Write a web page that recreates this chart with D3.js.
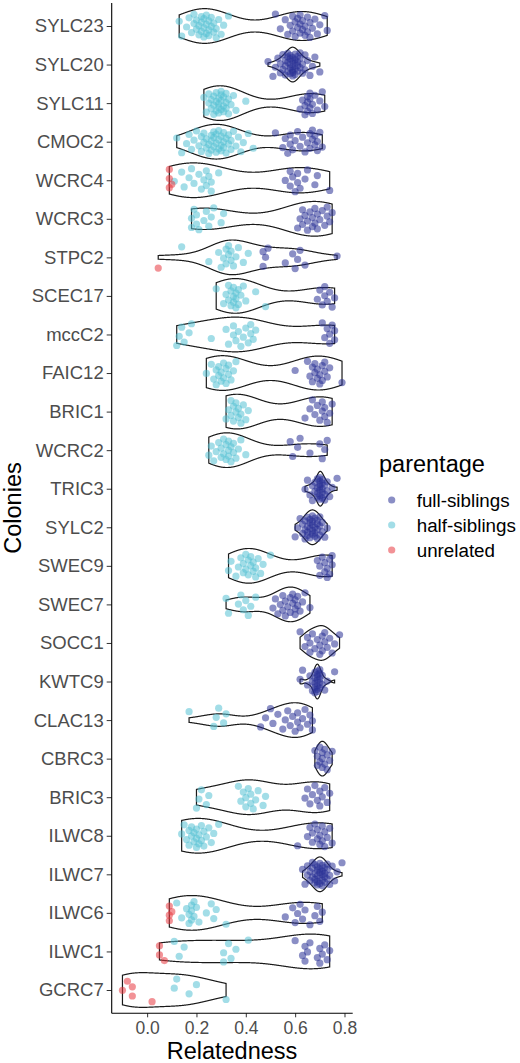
<!DOCTYPE html>
<html>
<head>
<meta charset="utf-8">
<script src="https://cdn.jsdelivr.net/npm/d3@7"></script>
<style>
  body { margin: 0; background: #fff; }
  svg { font-family: "Liberation Sans", Arial, sans-serif; }
</style>
</head>
<body>
<svg id="chart" width="520" height="1063"></svg>
<script>
// colonies, top to bottom
var colonies = ['SYLC23','SYLC20','SYLC11','CMOC2','WCRC4','WCRC3','STPC2','SCEC17','mccC2','FAIC12',
  'BRIC1','WCRC2','TRIC3','SYLC2','SWEC9','SWEC7','SOCC1','KWTC9','CLAC13','CBRC3','BRIC3','ILWC8',
  'ILWC7','ILWC6','ILWC1','GCRC7'];

var parentage = ['full-siblings', 'half-siblings', 'unrelated'];
var xTicks = [0, 0.2, 0.4, 0.6, 0.8];

// relatedness values, one row per colony (same order)
var fullSib = [
  [0.52,0.54,0.56,0.57,0.58,0.59,0.59,0.60,0.60,0.61,0.61,0.62,0.62,0.62,0.63,0.63,0.64,0.64,0.65,0.65,0.66,0.66,0.67,0.68,0.69,0.70,0.72,0.73],
  [0.49,0.51,0.52,0.53,0.54,0.54,0.55,0.55,0.56,0.56,0.56,0.57,0.57,0.57,0.57,0.58,0.58,0.58,0.58,0.58,0.59,0.59,0.59,0.59,0.59,0.59,0.60,0.60,0.60,0.60,0.60,0.61,0.61,0.61,0.61,0.62,0.62,0.62,0.63,0.63,0.64,0.64,0.65,0.66,0.67,0.68,0.70],
  [0.62,0.63,0.64,0.64,0.65,0.65,0.65,0.66,0.66,0.66,0.67,0.67,0.68,0.69,0.70,0.71,0.72],
  [0.52,0.55,0.56,0.57,0.58,0.58,0.59,0.60,0.61,0.62,0.63,0.64,0.65,0.66,0.66,0.67,0.67,0.68,0.68,0.69,0.69,0.70,0.71],
  [0.56,0.58,0.58,0.59,0.60,0.61,0.61,0.62,0.64,0.65,0.68,0.69,0.74],
  [0.61,0.62,0.63,0.63,0.64,0.65,0.65,0.66,0.67,0.67,0.68,0.68,0.69,0.69,0.70,0.71,0.72,0.73,0.73,0.74,0.75],
  [0.47,0.47,0.48,0.49,0.56,0.59,0.60,0.61,0.62,0.64,0.77],
  [0.69,0.70,0.71,0.72,0.72,0.73,0.74,0.75,0.76],
  [0.71,0.72,0.73,0.74,0.74,0.75,0.76,0.76],
  [0.60,0.65,0.66,0.67,0.67,0.68,0.68,0.69,0.69,0.70,0.70,0.71,0.71,0.72,0.72,0.73,0.74,0.79],
  [0.64,0.66,0.67,0.68,0.69,0.70,0.71,0.71,0.72,0.72,0.73,0.74,0.75],
  [0.58,0.59,0.61,0.62,0.66,0.70,0.71,0.72,0.73],
  [0.64,0.65,0.66,0.67,0.67,0.68,0.68,0.69,0.69,0.69,0.69,0.70,0.70,0.70,0.70,0.70,0.70,0.70,0.71,0.71,0.71,0.71,0.71,0.72,0.72,0.72,0.73,0.73,0.74,0.75,0.77],
  [0.60,0.61,0.62,0.63,0.63,0.64,0.64,0.64,0.65,0.65,0.65,0.65,0.66,0.66,0.66,0.66,0.67,0.67,0.67,0.67,0.67,0.68,0.68,0.68,0.68,0.69,0.69,0.69,0.69,0.70,0.70,0.70,0.71,0.71,0.72,0.73],
  [0.69,0.70,0.70,0.71,0.72,0.72,0.73,0.73,0.74,0.74,0.75,0.75],
  [0.51,0.52,0.53,0.54,0.55,0.55,0.56,0.56,0.57,0.58,0.58,0.59,0.59,0.60,0.60,0.60,0.61,0.61,0.62,0.63,0.64,0.66],
  [0.62,0.64,0.65,0.66,0.66,0.67,0.68,0.69,0.70,0.70,0.71,0.71,0.72,0.72,0.73,0.74,0.75,0.76,0.78],
  [0.62,0.63,0.65,0.66,0.67,0.67,0.68,0.68,0.68,0.68,0.68,0.69,0.69,0.69,0.69,0.69,0.69,0.69,0.70,0.70,0.70,0.70,0.70,0.71,0.71,0.72,0.73,0.76],
  [0.46,0.48,0.50,0.51,0.53,0.55,0.56,0.57,0.58,0.59,0.60,0.61,0.61,0.62,0.63,0.64,0.65,0.66,0.67,0.67],
  [0.68,0.69,0.69,0.70,0.70,0.71,0.71,0.71,0.72,0.72,0.73,0.73,0.74,0.75],
  [0.64,0.65,0.66,0.67,0.68,0.69,0.70,0.70,0.71,0.72,0.73,0.74],
  [0.61,0.65,0.66,0.67,0.67,0.68,0.69,0.69,0.70,0.70,0.71,0.71,0.72,0.72,0.73,0.74,0.75],
  [0.63,0.64,0.65,0.65,0.66,0.66,0.67,0.67,0.67,0.68,0.68,0.68,0.68,0.69,0.69,0.69,0.69,0.69,0.70,0.70,0.70,0.70,0.70,0.71,0.71,0.71,0.71,0.71,0.72,0.72,0.72,0.72,0.73,0.73,0.73,0.74,0.74,0.75,0.76,0.77,0.79],
  [0.56,0.59,0.60,0.61,0.62,0.63,0.64,0.66,0.68,0.69,0.70,0.71],
  [0.60,0.63,0.64,0.64,0.65,0.66,0.69,0.70,0.70,0.71,0.72,0.73,0.74],
  []
];

var halfSib = [
  [0.13,0.14,0.16,0.17,0.18,0.19,0.19,0.20,0.20,0.21,0.21,0.22,0.22,0.22,0.23,0.23,0.23,0.24,0.24,0.24,0.25,0.25,0.25,0.26,0.26,0.27,0.27,0.28,0.28,0.29,0.30,0.31,0.33],
  [],
  [0.23,0.24,0.25,0.25,0.26,0.26,0.27,0.27,0.27,0.28,0.28,0.28,0.29,0.29,0.29,0.29,0.30,0.30,0.30,0.30,0.31,0.31,0.31,0.32,0.32,0.32,0.33,0.33,0.34,0.35,0.36,0.40],
  [0.12,0.14,0.16,0.17,0.18,0.19,0.20,0.21,0.22,0.22,0.23,0.23,0.24,0.24,0.25,0.25,0.26,0.26,0.26,0.27,0.27,0.27,0.28,0.28,0.28,0.29,0.29,0.29,0.30,0.30,0.30,0.31,0.31,0.31,0.32,0.32,0.33,0.33,0.34,0.34,0.35,0.36,0.37,0.38,0.39,0.41,0.43],
  [0.11,0.14,0.15,0.17,0.18,0.19,0.21,0.22,0.23,0.24,0.24,0.25,0.26,0.26,0.29],
  [0.18,0.18,0.19,0.20,0.20,0.21,0.23,0.24,0.25,0.26,0.27,0.30,0.31],
  [0.14,0.25,0.29,0.30,0.31,0.32,0.32,0.33,0.33,0.34,0.34,0.35,0.36,0.37,0.39,0.41],
  [0.28,0.31,0.32,0.33,0.33,0.34,0.34,0.35,0.35,0.35,0.36,0.36,0.36,0.37,0.37,0.38,0.39,0.40,0.44,0.48],
  [0.12,0.13,0.14,0.15,0.17,0.18,0.26,0.32,0.33,0.35,0.35,0.36,0.37,0.38,0.39,0.40,0.41,0.42,0.42,0.43,0.44],
  [0.24,0.26,0.27,0.28,0.28,0.29,0.29,0.30,0.30,0.31,0.31,0.32,0.32,0.33,0.33,0.34,0.35,0.36],
  [0.32,0.33,0.34,0.34,0.35,0.35,0.36,0.36,0.37,0.37,0.38,0.38,0.39,0.40,0.41],
  [0.25,0.26,0.27,0.28,0.29,0.30,0.30,0.31,0.31,0.32,0.32,0.33,0.33,0.33,0.34,0.34,0.35,0.35,0.36,0.37,0.38,0.40],
  [],
  [],
  [0.33,0.34,0.36,0.37,0.38,0.39,0.39,0.40,0.40,0.41,0.41,0.42,0.42,0.43,0.43,0.44,0.44,0.45,0.46,0.47,0.50],
  [0.32,0.33,0.37,0.38,0.39,0.40,0.41,0.42,0.44],
  [],
  [],
  [0.17,0.27,0.28,0.29,0.31,0.32],
  [],
  [0.20,0.21,0.22,0.24,0.25,0.37,0.38,0.39,0.40,0.40,0.41,0.42,0.42,0.43,0.44,0.45,0.47,0.48],
  [0.14,0.15,0.16,0.17,0.17,0.18,0.18,0.19,0.19,0.20,0.20,0.20,0.21,0.21,0.22,0.22,0.23,0.23,0.24,0.25,0.26,0.27,0.29],
  [],
  [0.12,0.14,0.16,0.17,0.17,0.18,0.18,0.18,0.19,0.19,0.20,0.21,0.24,0.26,0.27,0.28,0.32],
  [0.11,0.13,0.15,0.31,0.31,0.33,0.34,0.36,0.41],
  [0.11,0.12,0.17,0.20,0.32]
];

var unrelated = [
  [],[],[],[],
  [0.09,0.09,0.09,0.10],
  [],
  [0.045],
  [],[],[],[],[],[],[],[],[],[],[],[],[],[],[],[],
  [0.09,0.09,0.09,0.10],
  [0.05,0.05,0.07],
  [-0.10,-0.08,-0.06,-0.06,0.02]
];

var colors = ['#2a3196', '#56c1d3', '#e8383f'];

var svg = d3.select('#chart');

var x = d3.scaleLinear().domain([-0.1436, 0.8333]).range([111.7, 352.7]);
var y = d3.scalePoint().domain(colonies).range([26, 990]);
var step = y.step();
var color = d3.scaleOrdinal().domain(parentage).range(colors);

// kernel density like R's density(bw = "nrd0"), trimmed to the data range
function violin(vals) {
  var s = vals.slice().sort(d3.ascending);
  var n = s.length;
  var sd = d3.deviation(s);
  var iqr = (d3.quantile(s, 0.75) - d3.quantile(s, 0.25)) / 1.34;
  var lo = Math.min(sd, iqr);
  if (!(lo > 0)) lo = sd || Math.abs(s[0]) || 1;
  var bw = 1.2 * 0.9 * lo * Math.pow(n, -0.2);
  var a = s[0], b = s[n - 1];
  var pts = [];
  for (var i = 0; i < 512; i++) {
    var t = a + (b - a) * i / 511;
    var dens = d3.sum(s, function(v) {
      var z = (t - v) / bw;
      return Math.exp(-0.5 * z * z);
    });
    pts.push([t, dens]);
  }
  var mx = d3.max(pts, function(p) { return p[1]; });
  return pts.map(function(p) { return [p[0], p[1] / mx]; });
}

var line = d3.line();
var gViolins = svg.append('g');
colonies.forEach(function(c, ci) {
  var vals = fullSib[ci].concat(halfSib[ci], unrelated[ci]);
  var dens = violin(vals);
  var cy = y(c);
  var half = 0.45 * step;
  var upper = dens.map(function(p) { return [x(p[0]), cy - p[1] * half]; });
  var lower = dens.slice().reverse().map(function(p) { return [x(p[0]), cy + p[1] * half]; });
  gViolins.append('path')
    .attr('d', line(upper.concat(lower)) + 'Z')
    .attr('fill', 'none')
    .attr('stroke', '#1a1a1a')
    .attr('stroke-width', 1.2);
});

// points with a fixed vertical jitter
var pointData = [];
colonies.forEach(function(c, ci) {
  var k = 0;
  [fullSib, halfSib, unrelated].forEach(function(arr, pi) {
    arr[ci].forEach(function(v) {
      var j = ((k * 0.6180339887 + ci * 0.377) % 1) - 0.5;
      pointData.push({colony: c, value: v, group: parentage[pi], jit: j});
      k++;
    });
  });
});

svg.append('g').selectAll('circle')
  .data(pointData)
  .enter().append('circle')
    .attr('cx', function(d) { return x(d.value); })
    .attr('cy', function(d) { return y(d.colony) + d.jit * 0.62 * step; })
    .attr('r', 3.6)
    .attr('fill', function(d) { return color(d.group); })
    .attr('fill-opacity', 0.55);

// axes
var yAxis = svg.append('g')
  .attr('transform', 'translate(111.7,0)')
  .call(d3.axisLeft(y).tickSize(5).tickPadding(3).tickSizeOuter(0));
yAxis.select('.domain').remove();
yAxis.selectAll('.tick line').attr('stroke', '#333');
yAxis.selectAll('.tick text')
  .attr('fill', '#4d4d4d')
  .style('font-size', '18.5px')
  .style('font-family', '"Liberation Sans", Arial, sans-serif');

var xAxis = svg.append('g')
  .attr('transform', 'translate(0,1013.3)')
  .call(d3.axisBottom(x).tickValues(xTicks).tickFormat(d3.format('.1f')).tickSize(4).tickPadding(4).tickSizeOuter(0));
xAxis.select('.domain').remove();
xAxis.selectAll('.tick line').attr('stroke', '#333');
xAxis.selectAll('.tick text')
  .attr('fill', '#4d4d4d')
  .style('font-size', '17.5px')
  .style('font-family', '"Liberation Sans", Arial, sans-serif');

svg.append('line')
  .attr('x1', 111.7).attr('x2', 111.7).attr('y1', 3).attr('y2', 1013.3)
  .attr('stroke', '#000').attr('stroke-width', 1.1);
svg.append('line')
  .attr('x1', 111.7).attr('x2', 352.7).attr('y1', 1013.3).attr('y2', 1013.3)
  .attr('stroke', '#000').attr('stroke-width', 1.1);

svg.append('text')
  .attr('x', 232).attr('y', 1059)
  .attr('text-anchor', 'middle')
  .style('font-size', '23.5px')
  .text('Relatedness');

svg.append('text')
  .attr('transform', 'translate(21,508) rotate(-90)')
  .attr('text-anchor', 'middle')
  .style('font-size', '23.5px')
  .text('Colonies');

// legend
var legend = svg.append('g');
legend.append('text')
  .attr('x', 379).attr('y', 472)
  .style('font-size', '23.5px')
  .text('parentage');
parentage.forEach(function(p, i) {
  var ly = 500 + i * 25;
  legend.append('circle')
    .attr('cx', 391.7).attr('cy', ly).attr('r', 3.6)
    .attr('fill', color(p)).attr('fill-opacity', 0.55);
  legend.append('text')
    .attr('x', 416.7).attr('y', ly).attr('dy', '0.35em')
    .style('font-size', '18.8px')
    .text(p);
});
</script>
</body>
</html>
